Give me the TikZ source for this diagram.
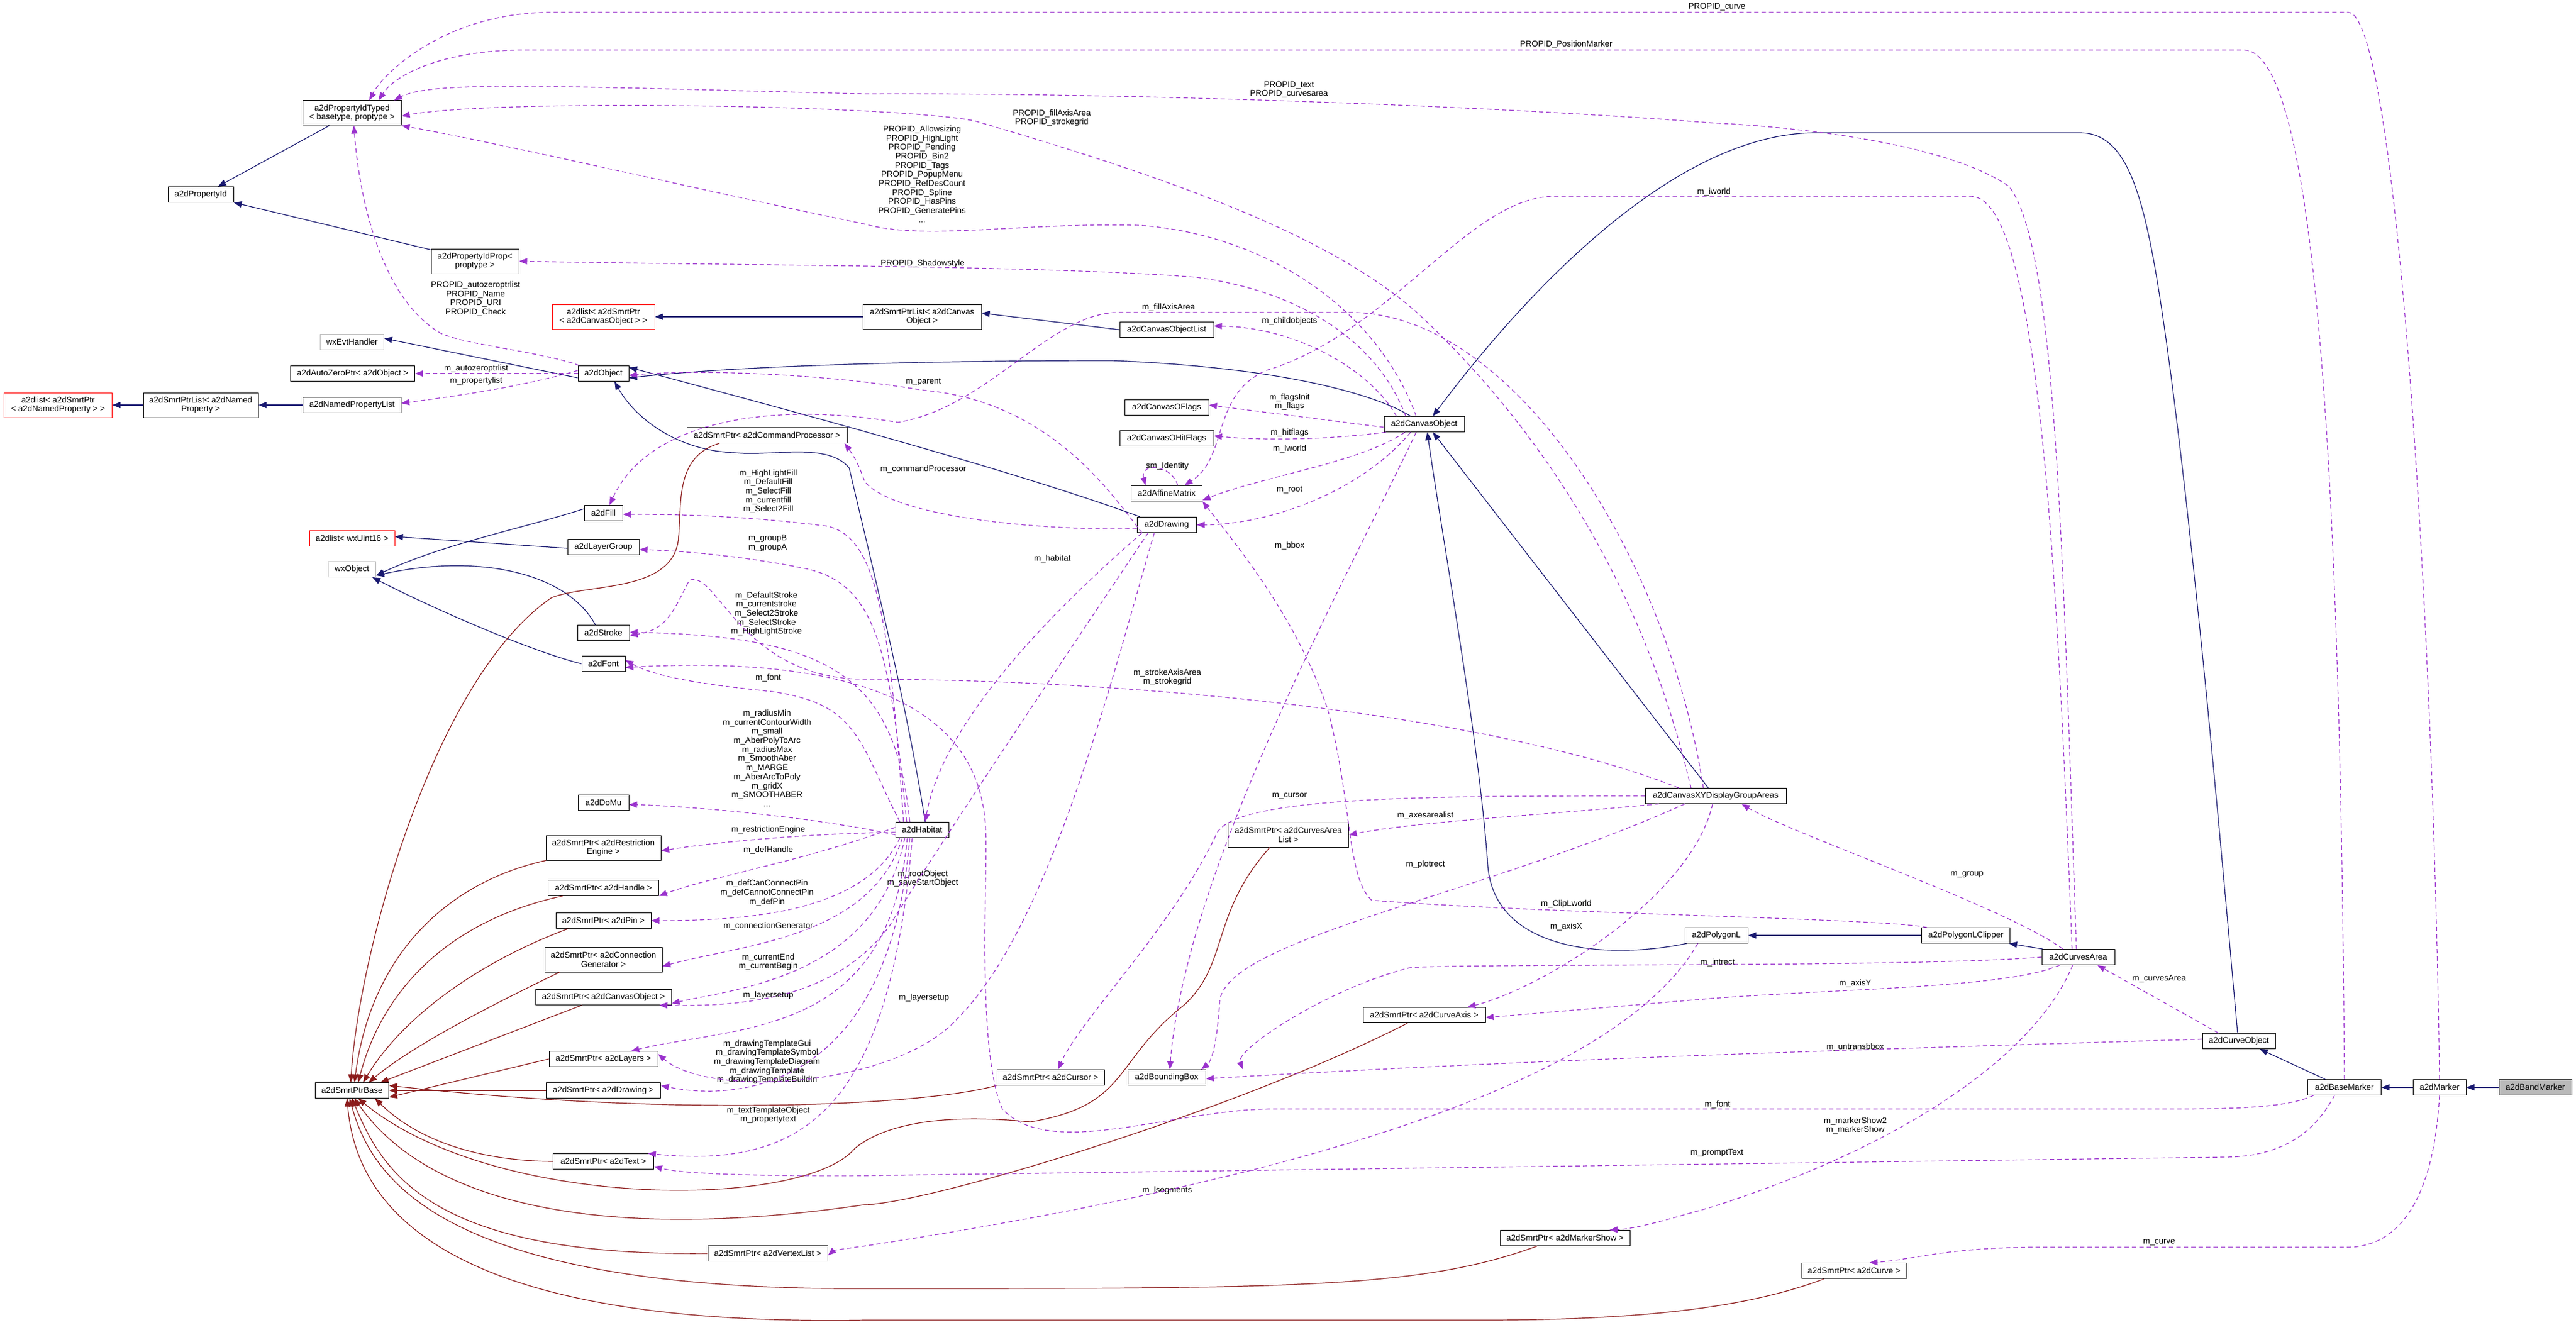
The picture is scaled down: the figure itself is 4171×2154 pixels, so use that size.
\documentclass[tikz,border=0pt]{standalone}
\usepackage{fontspec}
\setmainfont{Liberation Sans}
\usetikzlibrary{arrows.meta}
\definecolor{inhc}{HTML}{191970}
\definecolor{tplc}{HTML}{8B1A1A}
\definecolor{usec}{HTML}{9A32CD}
\begin{document}
\begin{tikzpicture}[x=1pt,y=-1pt,
  box/.style={draw=black,line width=1pt,inner sep=0pt,minimum height=25pt,align=center,font=\fontsize{13.5}{14.7}\selectfont},
  redbox/.style={box,draw=red},
  graybox/.style={box,draw=gray!55},
  lbl/.style={inner sep=0pt,align=center,font=\fontsize{13.5}{14.7}\selectfont},
  inh/.style={draw=inhc,line width=1.2pt,-{Triangle[length=13pt,width=10pt]}},
  tpl/.style={draw=tplc,line width=1.2pt,-{Triangle[length=13pt,width=10pt]}},
  use/.style={draw=usec,line width=1.2pt,dash pattern=on 7pt off 5pt,-{Triangle[length=13pt,width=10pt,fill=usec]}}]
\useasboundingbox[fill=white] (0,0) rectangle (4171,2154);
% ---------- nodes
\node[box,minimum width=160pt,minimum height=40pt] (ptyped) at (570,183) {a2dPropertyIdTyped\\< basetype, proptype >};
\node[box,minimum width=106pt] (pid) at (325,315) {a2dPropertyId};
\node[box,minimum width=142pt,minimum height=40pt] (pprop) at (769,423) {a2dPropertyIdProp<\\proptype >};
\node[redbox,minimum width=166pt,minimum height=40pt] (lco) at (977,513) {a2dlist< a2dSmrtPtr\\< a2dCanvasObject > >};
\node[graybox,minimum width=103pt] (evt) at (570,554) {wxEvtHandler};
\node[box,minimum width=201pt] (azp) at (571,605) {a2dAutoZeroPtr< a2dObject >};
\node[box,minimum width=82pt] (obj) at (977,605) {a2dObject};
\node[redbox,minimum width=175pt,minimum height=40pt] (lnp) at (94,656) {a2dlist< a2dSmrtPtr\\< a2dNamedProperty > >};
\node[box,minimum width=186pt,minimum height=40pt] (splnp) at (325,656) {a2dSmrtPtrList< a2dNamed\\Property >};
\node[box,minimum width=159pt] (npl) at (570,656) {a2dNamedPropertyList};
\node[box,minimum width=260pt] (cmdproc) at (1242,705) {a2dSmrtPtr< a2dCommandProcessor >};
\node[box,minimum width=62pt] (fill) at (977,831) {a2dFill};
\node[redbox,minimum width=138pt] (lwx) at (570,872) {a2dlist< wxUint16 >};
\node[box,minimum width=116pt] (lgroup) at (977,886) {a2dLayerGroup};
\node[graybox,minimum width=77pt] (wxo) at (570,922) {wxObject};
\node[box,minimum width=84pt] (stroke) at (977,1025) {a2dStroke};
\node[box,minimum width=70pt] (font) at (977,1075) {a2dFont};
\node[box,minimum width=82pt] (domu) at (977,1300) {a2dDoMu};
\node[box,minimum width=186pt,minimum height=40pt] (spre) at (977,1373) {a2dSmrtPtr< a2dRestriction\\Engine >};
\node[box,minimum width=179pt] (sphandle) at (977,1438) {a2dSmrtPtr< a2dHandle >};
\node[box,minimum width=154pt] (sppin) at (977,1491) {a2dSmrtPtr< a2dPin >};
\node[box,minimum width=190pt,minimum height=40pt] (spcg) at (977,1554) {a2dSmrtPtr< a2dConnection\\Generator >};
\node[box,minimum width=220pt] (spco) at (977,1615) {a2dSmrtPtr< a2dCanvasObject >};
\node[box,minimum width=176pt] (splayers) at (977,1715) {a2dSmrtPtr< a2dLayers >};
\node[box,minimum width=119pt] (sbase) at (570,1766) {a2dSmrtPtrBase};
\node[box,minimum width=185pt] (spdraw) at (977,1766) {a2dSmrtPtr< a2dDrawing >};
\node[box,minimum width=163pt] (sptext) at (977,1881) {a2dSmrtPtr< a2dText >};
\node[box,minimum width=194pt] (spvl) at (1243,2030) {a2dSmrtPtr< a2dVertexList >};
\node[box,minimum width=192pt,minimum height=40pt] (splco) at (1493,513) {a2dSmrtPtrList< a2dCanvas\\Object >};
\node[box,minimum width=152pt] (colist) at (1889,534) {a2dCanvasObjectList};
\node[box,minimum width=136pt] (cof) at (1889,660) {a2dCanvasOFlags};
\node[box,minimum width=152pt] (ohit) at (1889,710) {a2dCanvasOHitFlags};
\node[box,minimum width=115pt] (affine) at (1889,799) {a2dAffineMatrix};
\node[box,minimum width=96pt] (drawing) at (1889,850) {a2dDrawing};
\node[box,minimum width=130pt] (cobj) at (2306,687) {a2dCanvasObject};
\node[box,minimum width=86pt] (hab) at (1493,1344) {a2dHabitat};
\node[box,minimum width=195pt,minimum height=40pt] (cal) at (2086,1352) {a2dSmrtPtr< a2dCurvesArea\\List >};
\node[box,minimum width=174pt] (cursor) at (1701,1745) {a2dSmrtPtr< a2dCursor >};
\node[box,minimum width=126pt] (bbox) at (1889,1745) {a2dBoundingBox};
\node[box,minimum width=198pt] (caxis) at (2306,1644) {a2dSmrtPtr< a2dCurveAxis >};
\node[box,minimum width=228pt] (xy) at (2778,1289) {a2dCanvasXYDisplayGroupAreas};
\node[box,minimum width=102pt] (poly) at (2779,1515) {a2dPolygonL};
\node[box,minimum width=143pt] (clip) at (3183,1515) {a2dPolygonLClipper};
\node[box,minimum width=118pt] (cura) at (3365,1550) {a2dCurvesArea};
\node[box,minimum width=118pt] (cobjcurve) at (3625,1686) {a2dCurveObject};
\node[box,minimum width=119pt] (basemarker) at (3796,1761) {a2dBaseMarker};
\node[box,minimum width=86pt] (marker) at (3950,1761) {a2dMarker};
\node[box,minimum width=118pt,fill=gray!55] (band) at (4105,1761) {a2dBandMarker};
\node[box,minimum width=210pt] (mshow) at (2534,2005) {a2dSmrtPtr< a2dMarkerShow >};
\node[box,minimum width=170pt] (spcurve) at (3002,2058) {a2dSmrtPtr< a2dCurve >};
% ---------- labels
\node[lbl] (l1) at (2780,11) {PROPID\_curve};
\node[lbl] (l2) at (2536,72) {PROPID\_PositionMarker};
\node[lbl] (l3) at (2087,145) {PROPID\_text\\PROPID\_curvesarea};
\node[lbl] (l4) at (1703,191) {PROPID\_fillAxisArea\\PROPID\_strokegrid};
\node[lbl] (l5) at (1493,282) {PROPID\_Allowsizing\\PROPID\_HighLight\\PROPID\_Pending\\PROPID\_Bin2\\PROPID\_Tags\\PROPID\_PopupMenu\\PROPID\_RefDesCount\\PROPID\_Spline\\PROPID\_HasPins\\PROPID\_GeneratePins\\...};
\node[lbl] (l6) at (1494,427) {PROPID\_Shadowstyle};
\node[lbl] (l7) at (770,484) {PROPID\_autozeroptrlist\\PROPID\_Name\\PROPID\_URI\\PROPID\_Check};
\node[lbl] (l8) at (771,597) {m\_autozeroptrlist};
\node[lbl] (l9) at (771,617) {m\_propertylist};
\node[lbl] (l10) at (1892,498) {m\_fillAxisArea};
\node[lbl] (l11) at (2088,520) {m\_childobjects};
\node[lbl] (l12) at (1495,619) {m\_parent};
\node[lbl] (l13) at (2088,651) {m\_flagsInit\\m\_flags};
\node[lbl] (l14) at (2088,701) {m\_hitflags};
\node[lbl] (l15) at (2088,727) {m\_lworld};
\node[lbl] (l16) at (1890,755) {sm\_Identity};
\node[lbl] (l17) at (1495,760) {m\_commandProcessor};
\node[lbl] (l18) at (2088,793) {m\_root};
\node[lbl] (l19) at (2088,884) {m\_bbox};
\node[lbl] (l20) at (1704,905) {m\_habitat};
\node[lbl] (l21) at (2775,311) {m\_iworld};
\node[lbl] (l22) at (1244,796) {m\_HighLightFill\\m\_DefaultFill\\m\_SelectFill\\m\_currentfill\\m\_Select2Fill};
\node[lbl] (l23) at (1243,880) {m\_groupB\\m\_groupA};
\node[lbl] (l24) at (1241,994) {m\_DefaultStroke\\m\_currentstroke\\m\_Select2Stroke\\m\_SelectStroke\\m\_HighLightStroke};
\node[lbl] (l25) at (1244,1098) {m\_font};
\node[lbl] (l26) at (1890,1097) {m\_strokeAxisArea\\m\_strokegrid};
\node[lbl] (l27) at (1242,1228) {m\_radiusMin\\m\_currentContourWidth\\m\_small\\m\_AberPolyToArc\\m\_radiusMax\\m\_SmoothAber\\m\_MARGE\\m\_AberArcToPoly\\m\_gridX\\m\_SMOOTHABER\\...};
\node[lbl] (l28) at (2088,1289) {m\_cursor};
\node[lbl] (l29) at (2308,1321) {m\_axesarealist};
\node[lbl] (l30) at (1244,1344) {m\_restrictionEngine};
\node[lbl] (l31) at (1244,1377) {m\_defHandle};
\node[lbl] (l32) at (2308,1400) {m\_plotrect};
\node[lbl] (l33) at (3185,1416) {m\_group};
\node[lbl] (l34) at (1494,1423) {m\_rootObject\\m\_saveStartObject};
\node[lbl] (l35) at (1242,1446) {m\_defCanConnectPin\\m\_defCannotConnectPin\\m\_defPin};
\node[lbl] (l36) at (2536,1464) {m\_ClipLworld};
\node[lbl] (l37) at (1244,1500) {m\_connectionGenerator};
\node[lbl] (l38) at (2536,1501) {m\_axisX};
\node[lbl] (l39) at (1244,1558) {m\_currentEnd\\m\_currentBegin};
\node[lbl] (l40) at (2781,1559) {m\_intrect};
\node[lbl] (l41) at (3496,1585) {m\_curvesArea};
\node[lbl] (l42) at (3004,1593) {m\_axisY};
\node[lbl] (l43) at (1244,1612) {m\_layersetup};
\node[lbl] (l44) at (1496,1616) {m\_layersetup};
\node[lbl] (l45) at (3004,1696) {m\_untransbbox};
\node[lbl] (l46) at (1242,1720) {m\_drawingTemplateGui\\m\_drawingTemplateSymbol\\m\_drawingTemplateDiagram\\m\_drawingTemplate\\m\_drawingTemplateBuildIn};
\node[lbl] (l47) at (2781,1789) {m\_font};
\node[lbl] (l48) at (1244,1806) {m\_textTemplateObject\\m\_propertytext};
\node[lbl] (l49) at (3004,1823) {m\_markerShow2\\m\_markerShow};
\node[lbl] (l50) at (2780,1867) {m\_promptText};
\node[lbl] (l51) at (1890,1928) {m\_lsegments};
\node[lbl] (l52) at (3496,2012) {m\_curve};
% ---------- inheritance
\draw[inh] ([xshift=-37]ptyped.south) -- ([xshift=28]pid.north);
\draw[inh] ([yshift=-2]pprop.north west) -- (pid.south east);
\draw[inh] ([yshift=-7]obj.west) -- ([yshift=6]evt.east);
\draw[inh] (splnp.west) -- (lnp.east);
\draw[inh] (npl.west) -- (splnp.east);
\draw[inh] (splco.west) -- (lco.east);
\draw[inh] (colist.west) -- ([yshift=6]splco.east);
\draw[inh] ([xshift=-22]cobj.north) .. controls (2230,640) and (2080,595) .. (1800,584) .. controls (1500,584) and (1200,592) .. ([yshift=-7]obj.east);
\draw[inh] ([xshift=-43]drawing.north) .. controls (1650,765) and (1300,670) .. ([yshift=10]obj.east);
\draw[inh] ([xshift=5]hab.north) .. controls (1470,1150) and (1420,950) .. (1375,758) .. controls (1340,715) and (1250,740) .. (1188,733) .. controls (1100,730) and (1030,680) .. ([xshift=18]obj.south);
\draw[inh] ([yshift=7]fill.west) .. controls (850,855) and (720,880) .. ([yshift=-10]wxo.east);
\draw[inh] ([yshift=-2]lgroup.west) -- ([yshift=3]lwx.east);
\draw[inh] ([xshift=-13]stroke.north) .. controls (920,930) and (780,895) .. ([yshift=-10]wxo.east);
\draw[inh] (font.west) .. controls (860,1055) and (700,985) .. ([xshift=33]wxo.south);
\draw[inh] ([xshift=-12]xy.north) -- ([xshift=14]cobj.south);
\draw[inh] ([xshift=-48]poly.south) .. controls (2600,1555) and (2420,1540) .. (2409,1402) .. controls (2395,1200) and (2340,900) .. ([xshift=5]cobj.south);
\draw[inh] (clip.west) -- (poly.east);
\draw[inh] ([xshift=2]cura.north west) -- ([xshift=-2]clip.south east);
\draw[inh] ([xshift=-2]cobjcurve.north) .. controls (3590,1300) and (3545,800) .. (3500,500) .. controls (3470,300) and (3440,215) .. (3367,215) -- (2941,215) .. controls (2700,215) and (2450,500) .. ([xshift=14]cobj.north);
\draw[inh] ([xshift=-31]basemarker.north) -- ([xshift=34]cobjcurve.south);
\draw[inh] (marker.west) -- (basemarker.east);
\draw[inh] (band.west) -- (marker.east);
% ---------- template instances
\draw[tpl] ([xshift=-77]cmdproc.south) .. controls (1090,740) and (1105,820) .. (1098,877) .. controls (1085,960) and (950,945) .. (893,968) .. controls (700,1100) and (580,1550) .. ([xshift=-2]sbase.north);
\draw[tpl] ([xshift=-93]spre.south) .. controls (720,1430) and (600,1550) .. ([xshift=4]sbase.north);
\draw[tpl] ([xshift=-66]sphandle.south) .. controls (730,1490) and (620,1600) .. ([xshift=10]sbase.north);
\draw[tpl] ([xshift=-57]sppin.south) .. controls (770,1560) and (650,1650) .. ([xshift=18]sbase.north);
\draw[tpl] ([xshift=-71]spcg.south) .. controls (770,1640) and (660,1700) .. ([xshift=27]sbase.north);
\draw[tpl] ([xshift=-35]spco.south) -- ([xshift=46]sbase.north);
\draw[tpl] (splayers.west) -- ([yshift=-11]sbase.east);
\draw[tpl] (spdraw.west) -- (sbase.east);
\draw[tpl] (cursor.south west) .. controls (1500,1790) and (1100,1810) .. ([yshift=8]sbase.east);
\draw[tpl] (sptext.west) .. controls (780,1880) and (680,1850) .. ([xshift=37]sbase.south);
\draw[tpl] ([xshift=-30]cal.south) .. controls (1960,1480) and (1990,1560) .. (1918,1627) .. controls (1800,1720) and (1830,1790) .. (1668,1817) .. controls (1500,1800) and (1420,1830) .. (1384,1860) .. controls (1300,1960) and (800,1960) .. ([xshift=10]sbase.south);
\draw[tpl] ([xshift=-27]caxis.south) .. controls (2000,1800) and (1500,1950) .. (1400,1951) .. controls (1000,2010) and (700,1960) .. ([xshift=4]sbase.south);
\draw[tpl] (spvl.west) .. controls (700,2035) and (620,1900) .. ([xshift=0]sbase.south);
\draw[tpl] ([xshift=-45]mshow.south) .. controls (2300,2087) and (2100,2087) .. (1400,2087) .. controls (700,2090) and (600,1900) .. ([xshift=-4]sbase.south);
\draw[tpl] ([xshift=-48]spcurve.south) .. controls (2850,2110) and (2700,2138) .. (2400,2138) -- (1400,2138) .. controls (800,2148) and (580,2000) .. ([xshift=-8]sbase.south);
% ---------- usage
\draw[use] ([xshift=-39]obj.north) .. controls (880,570) and (760,560) .. (714,540) .. controls (610,480) and (580,300) .. ([xshift=3]ptyped.south);
\draw[use] (obj.west) -- (azp.east);
\draw[use] ([yshift=5]obj.west) .. controls (850,625) and (750,640) .. ([yshift=3]npl.east);
\draw[use] ([xshift=-13]cobj.north) .. controls (2230,500) and (2050,380) .. (1846,365) .. controls (1650,360) and (1500,390) .. (1400,363) .. controls (1100,300) and (800,230) .. (ptyped.south east);
\draw[use] ([xshift=-30]cobj.north) .. controls (2230,550) and (2100,470) .. (1936,449) .. controls (1700,430) and (1200,430) .. (pprop.east);
\draw[use] ([xshift=-40]xy.north) .. controls (2650,900) and (2450,650) .. (2293,505) .. controls (2150,380) and (1900,290) .. (1579,196) .. controls (1450,170) and (800,160) .. ([yshift=-5]ptyped.east);
\draw[use] ([xshift=-3]cura.north) .. controls (3340,900) and (3330,400) .. (3253,302) .. controls (3150,230) and (2900,205) .. (2771,199) .. controls (2400,170) and (1800,150) .. (1400,152) .. controls (900,140) and (700,130) .. ([xshift=68]ptyped.north);
\draw[use] (basemarker.north) .. controls (3790,900) and (3760,81) .. (3633,81) -- (848,81) .. controls (720,81) and (640,120) .. ([xshift=43]ptyped.north);
\draw[use] (marker.north) .. controls (3940,1000) and (3880,20) .. (3802,20) -- (893,20) .. controls (720,20) and (620,120) .. ([xshift=28]ptyped.north);
\draw[use] ([xshift=-45]cobj.north) .. controls (2220,600) and (2100,530) .. ([yshift=6]colist.east);
\draw[use] ([xshift=-20]xy.north) .. controls (2700,900) and (2450,506) .. (2186,506) -- (1811,506) .. controls (1700,506) and (1600,660) .. (1454,684) .. controls (1250,650) and (1050,680) .. ([xshift=10]fill.north);
\draw[use] ([xshift=-40]drawing.south) .. controls (1800,800) and (1700,650) .. (1495,632) .. controls (1300,600) and (1100,600) .. ([yshift=-3]obj.east);
\draw[use] ([yshift=-6]drawing.west) .. controls (1700,860) and (1450,840) .. (1400,780) .. controls (1390,750) and (1380,735) .. ([xshift=-5]cmdproc.south east);
\draw[use] ([yshift=-5]cobj.west) -- ([yshift=4]cof.east);
\draw[use] ([xshift=-62]cobj.south) .. controls (2150,712) and (2050,714) .. ([yshift=4]ohit.east);
\draw[use] ([xshift=-31]cobj.south) .. controls (2200,750) and (2050,770) .. ([yshift=-11]affine.east);
\draw[use] ([xshift=18]affine.north) .. controls (1895,750) and (1845,750) .. ([xshift=-34]affine.north);
\draw[use] ([xshift=-22]cobj.south) .. controls (2200,800) and (2050,850) .. (drawing.east);
\draw[use] ([xshift=-13]cobj.south) .. controls (2200,900) and (1920,1400) .. ([xshift=5]bbox.north);
\draw[use] ([xshift=-10]cura.north) .. controls (3330,900) and (3300,318) .. (3191,318) -- (2516,318) .. controls (2380,318) and (2250,540) .. (2050,600) .. controls (1960,640) and (1990,740) .. ([xshift=29]affine.north);
\draw[use] ([xshift=-63]clip.north) .. controls (3050,1487) and (2500,1480) .. (2221,1458) .. controls (2180,1420) and (2190,1300) .. (2150,1150) .. controls (2100,1000) and (2000,880) .. (affine.south east);
% habitat
\draw[use] ([xshift=-30]hab.north) .. controls (1440,1000) and (1420,870) .. (1339,852) .. controls (1200,835) and (1100,833) .. ([yshift=-2]fill.east);
\draw[use] ([xshift=-25]hab.north) .. controls (1440,1050) and (1420,940) .. (1295,919) .. controls (1200,900) and (1100,892) .. ([yshift=-4]lgroup.east);
\draw[use] ([xshift=-20]hab.north) .. controls (1450,1100) and (1350,1030) .. ([yshift=1]stroke.east);
\draw[use] ([xshift=-60]xy.north) .. controls (2400,1150) and (1800,1100) .. (1400,1100) .. controls (1200,1100) and (1160,920) .. (1116,940) .. controls (1090,990) and (1080,1020) .. ([yshift=-4]stroke.east);
\draw[use] ([xshift=-36]hab.north) .. controls (1390,1200) and (1390,1140) .. (1250,1120) .. controls (1100,1105) and (1050,1090) .. ([yshift=6]font.east);
\draw[use] ([xshift=-50]basemarker.south) .. controls (3700,1796) and (3600,1796) .. (3500,1796) -- (2061,1796) .. controls (1900,1796) and (1700,1880) .. (1623,1796) .. controls (1580,1700) and (1600,1400) .. (1596,1346) .. controls (1590,1150) and (1400,1060) .. ([yshift=-6]font.east);
\draw[use] ([yshift=-8]hab.west) .. controls (1300,1320) and (1100,1305) .. ([yshift=-3]domu.east);
\draw[use] ([yshift=-4]hab.west) .. controls (1300,1350) and (1150,1365) .. ([yshift=-5]spre.east);
\draw[use] ([yshift=4]hab.west) .. controls (1300,1395) and (1150,1420) .. ([yshift=-13]sphandle.east);
\draw[use] ([xshift=-36]hab.south) .. controls (1400,1480) and (1200,1491) .. (sppin.east);
\draw[use] ([xshift=-32]hab.south) .. controls (1410,1520) and (1200,1530) .. ([yshift=-11]spcg.east);
\draw[use] ([xshift=-28]hab.south) .. controls (1420,1580) and (1200,1600) .. ([yshift=-10]spco.east);
\draw[use] ([xshift=-24]hab.south) .. controls (1440,1680) and (1200,1660) .. ([xshift=45]splayers.north);
\draw[use] ([xshift=-20]hab.south) .. controls (1440,1760) and (1200,1785) .. ([yshift=8]spdraw.east);
\draw[use] ([xshift=-16]hab.south) .. controls (1440,1800) and (1300,1893) .. ([xshift=-10]sptext.north east);
\draw[use] ([xshift=-40]drawing.south) .. controls (1750,950) and (1530,1150) .. ([xshift=5]hab.north);
\draw[use] ([xshift=-30]drawing.south) .. controls (1700,1100) and (1500,1400) .. (1440,1500) .. controls (1350,1620) and (1200,1630) .. ([xshift=-20]spco.south east);
\draw[use] ([xshift=-20]drawing.south) .. controls (1800,1100) and (1700,1500) .. (1550,1650) .. controls (1450,1760) and (1150,1780) .. ([yshift=8]splayers.east);
% xy display
\draw[use] (xy.west) .. controls (2300,1289) and (2000,1290) .. (1970,1350) .. controls (1900,1500) and (1750,1650) .. ([xshift=12]cursor.north);
\draw[use] ([xshift=-92]xy.south) .. controls (2500,1320) and (2300,1330) .. (cal.east);
\draw[use] ([xshift=-50]xy.south) .. controls (2400,1450) and (1990,1520) .. (1975,1620) .. controls (1970,1700) and (1960,1720) .. ([xshift=56]bbox.north);
\draw[use] ([xshift=-5]xy.south) .. controls (2740,1450) and (2500,1600) .. ([xshift=70]caxis.north);
\draw[use] ([xshift=-25]cura.north) .. controls (3250,1470) and (2900,1350) .. ([xshift=42]xy.south);
\draw[use] (cura.west) .. controls (3100,1567) and (2400,1560) .. (2284,1567) .. controls (2150,1600) and (2000,1700) .. ([xshift=60]bbox.north east);
\draw[use] ([xshift=-30]cura.south) .. controls (3250,1600) and (3000,1600) .. (2771,1617) -- ([yshift=-4]caxis.east);
\draw[use] ([xshift=-9]cura.south) .. controls (3300,1700) and (3100,1850) .. (2771,1955) .. controls (2700,1975) and (2650,1990) .. ([xshift=72]mshow.north);
\draw[use] ([xshift=-33]cobjcurve.north) -- ([xshift=31]cura.south);
\draw[use] ([yshift=3]cobjcurve.west) .. controls (3000,1700) and (2500,1715) .. ([yshift=-2]bbox.east);
\draw[use] (marker.south) .. controls (3940,1950) and (3880,2020) .. (3800,2020) -- (3300,2020) .. controls (3150,2020) and (3100,2040) .. ([xshift=25]spcurve.north);
\draw[use] ([xshift=-16]basemarker.south) .. controls (3750,1830) and (3700,1874) .. (3600,1874) -- (1400,1904) .. controls (1200,1905) and (1100,1900) .. ([yshift=-8]sptext.east);
\draw[use] ([xshift=-30]poly.south) .. controls (2650,1700) and (2300,1880) .. (1400,2018) .. controls (1370,2022) and (1350,2025) .. ([yshift=-3]spvl.east);
\end{tikzpicture}
\end{document}
